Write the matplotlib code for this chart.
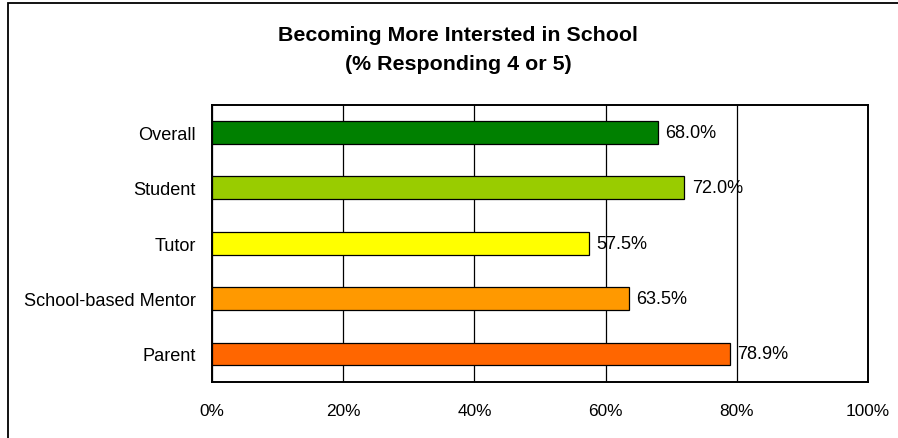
import matplotlib
matplotlib.use('Agg')
import matplotlib.pyplot as plt
from matplotlib.patches import Rectangle

plt.rcParams['font.family'] = ['Liberation Sans', 'DejaVu Sans']

#=====================================================================
#                           data
#=====================================================================
categories = ['Overall', 'Student', 'Tutor', 'School-based Mentor', 'Parent']
values     = [68.0, 72.0, 57.5, 63.5, 78.9]
colors     = ['#008000', '#99CC00', '#FFFF00', '#FF9900', '#FF6600']
xticks     = [0, 20, 40, 60, 80, 100]
title      = 'Becoming More Intersted in School\n(% Responding 4 or 5)'

#=====================================================================
#                           plot
#=====================================================================
W, H = 898, 439
fig = plt.figure(figsize=(W/100., H/100.), dpi=100)

# outer chart frame (runs off the right and bottom edges)
fig.patches.append(Rectangle((8./W, -0.1), 1.2, 1 - 3.5/H + 0.1, transform=fig.transFigure,
                             fill=False, ec='black', lw=1.3))

ax = fig.add_axes([212./W, 1 - 382.7/H, 656./W, 277./H])
ypos = list(range(len(categories)))
ax.barh(ypos, values, height=0.41, color=colors, edgecolor='black', lw=0.9, zorder=3)
for y, v in zip(ypos, values):
    ax.text(v + 1.15, y, '%.1f%%' % v, va='center', ha='left', fontsize=13.1, zorder=4)

ax.set_xlim(0, 100)
ax.set_ylim(len(categories) - 0.5, -0.5)
ax.set_yticks(ypos)
ax.set_yticklabels(categories, fontsize=13.1)
ax.set_xticks(xticks)
ax.set_xticklabels(['%d%%' % t for t in xticks], fontsize=12.4)
ax.tick_params(axis='both', length=0)
ax.tick_params(axis='x', pad=15)
ax.tick_params(axis='y', pad=11.5)
ax.grid(axis='x', color='black', lw=0.9, zorder=1)
for s in ax.spines.values():
    s.set_linewidth(1.4)

fig.text(0.51, 1 - 50./H, title, ha='center', va='center', fontsize=15.4,
         fontweight='bold', linespacing=1.7)

fig.savefig('out.png', dpi=100)
